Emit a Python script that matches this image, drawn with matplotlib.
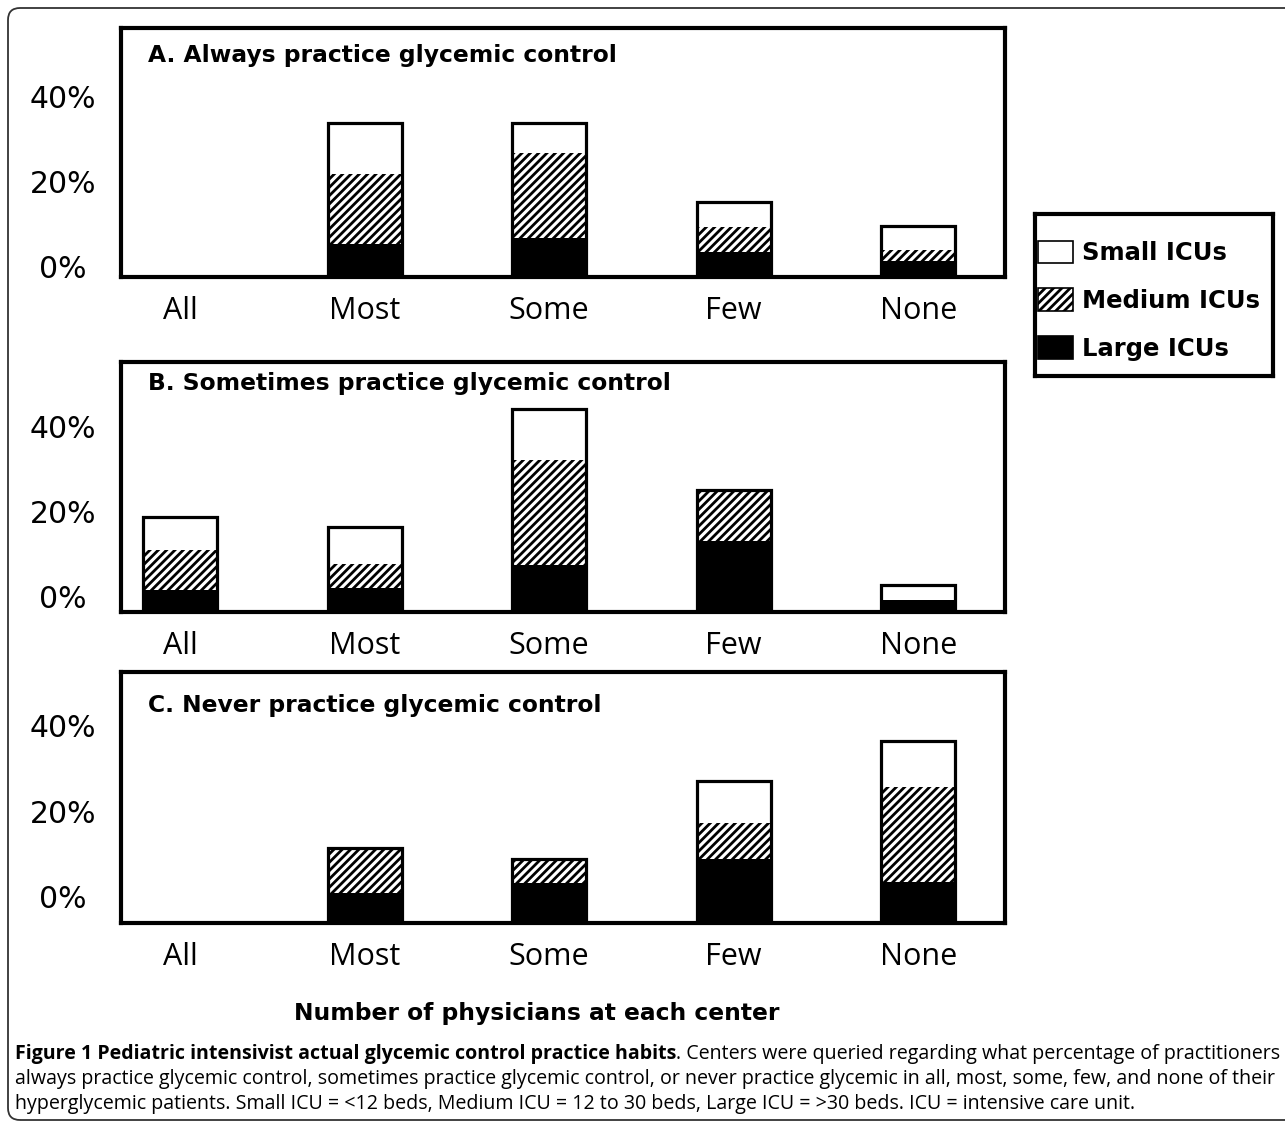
import matplotlib
matplotlib.use('Agg')
import matplotlib.pyplot as plt
from matplotlib.patches import Patch, FancyBboxPatch
from matplotlib.transforms import ScaledTranslation, IdentityTransform
import numpy as np

# ---------------- data ----------------
categories = ['All', 'Most', 'Some', 'Few', 'None']
tick_values = [0, 20, 40]
tick_labels = ['0%', '20%', '40%']
series_names = ['Small ICUs', 'Medium ICUs', 'Large ICUs']
panel_titles = ['A. Always practice glycemic control',
                'B. Sometimes practice glycemic control',
                'C. Never practice glycemic control']

always_large = [0, 7.8, 9.2, 5.9, 3.8]
always_medium = [0, 16.4, 20.0, 5.9, 2.6]
always_small = [0, 12.0, 7.0, 5.8, 5.6]

sometimes_large = [5.1, 5.6, 10.9, 16.5, 2.8]
sometimes_medium = [9.3, 5.6, 24.7, 12.1, 0]
sometimes_small = [7.9, 8.6, 11.8, 0, 3.5]

never_large = [0, 7.0, 9.3, 15.0, 9.6]
never_medium = [0, 10.5, 5.7, 8.4, 22.2]
never_small = [0, 0, 0, 9.8, 10.7]

x_title = 'Number of physicians at each center'
caption_bold = 'Figure 1 Pediatric intensivist actual glycemic control practice habits'
caption_rest = '. Centers were queried regarding what percentage of practitioners'
caption_line2 = ('always practice glycemic control, sometimes practice glycemic control, '
                 'or never practice glycemic in all, most, some, few, and none of their')
caption_line3 = ('hyperglycemic patients. Small ICU = <12 beds, Medium ICU = 12 to 30 beds, '
                 'Large ICU = >30 beds. ICU = intensive care unit.')

# ---------------- figure ----------------
W, H = 1285, 1123
DPI = 100
plt.rcParams['hatch.linewidth'] = 2.0
plt.rcParams['hatch.color'] = 'black'
fig = plt.figure(figsize=(W / DPI, H / DPI), dpi=DPI)
fig.patch.set_facecolor('white')


def px_rect(x0, y0, x1, y1):
    return [x0 / W, 1 - y1 / H, (x1 - x0) / W, (y1 - y0) / H]


panels = [
    (always_large, always_medium, always_small, (121, 28, 1005, 277), 10, 62),
    (sometimes_large, sometimes_medium, sometimes_small, (121, 362, 1005, 612), 15, 390),
    (never_large, never_medium, never_small, (121, 672, 1005, 923), 26, 712),
]

x = np.arange(len(categories))
bar_w = 0.40
title_font = 'DejaVu Sans'
for (large, medium, small, rect, yoff, tbase), title in zip(panels, panel_titles):
    ax = fig.add_axes(px_rect(*rect))
    large = np.array(large, dtype=float)
    medium = np.array(medium, dtype=float)
    small = np.array(small, dtype=float)
    ax.bar(x, large, width=bar_w, color='black', edgecolor=None)
    ax.bar(x, medium, bottom=large, width=bar_w, color='white',
           edgecolor=None, hatch='////')
    ax.bar(x, small, bottom=large + medium, width=bar_w, color='white',
           edgecolor=None)
    ax.bar(x, large + medium + small, width=bar_w, fill=False,
           edgecolor='black', linewidth=2.3, zorder=3)
    ax.set_xlim(-0.32, 4.47)
    ax.set_ylim(0, 58.5)
    for s in ax.spines.values():
        s.set_linewidth(3)
        s.set_color('black')
    ax.set_xticks(x)
    ax.set_xticklabels(categories, fontfamily='Open Sans', fontsize=22)
    ax.set_yticks(tick_values)
    ax.set_yticklabels(tick_labels, fontfamily='DejaVu Sans', fontsize=21.5)
    ax.tick_params(axis='x', length=0, pad=14)
    ax.tick_params(axis='y', length=0, pad=41.8)
    off = ScaledTranslation(0, yoff / DPI, fig.dpi_scale_trans)
    for lab in ax.get_yticklabels():
        lab.set_horizontalalignment('center')
        lab.set_transform(lab.get_transform() + off)
    fig.text(148 / W, 1 - tbase / H, title, fontfamily=title_font,
             fontweight='bold', fontsize=16.8, ha='left', va='baseline')

# ---------------- legend ----------------
leg_ax = fig.add_axes(px_rect(1035, 214, 1273, 376))
leg_ax.set_xticks([])
leg_ax.set_yticks([])
for s in leg_ax.spines.values():
    s.set_linewidth(3)
    s.set_color('black')
handles = [Patch(facecolor='white', edgecolor='black', linewidth=1.2),
           Patch(facecolor='white', edgecolor='black', linewidth=1.2, hatch='////'),
           Patch(facecolor='black', edgecolor='black', linewidth=1.2)]
leg = leg_ax.legend(handles, series_names, loc='center left',
                    bbox_to_anchor=(0.0, 0.465), frameon=False,
                    prop={'family': 'DejaVu Sans', 'weight': 'bold', 'size': 17.5},
                    handlelength=1.45, handleheight=1.05, handletextpad=0.35,
                    labelspacing=0.95, borderpad=0.0, borderaxespad=0.12)

# ---------------- axis title ----------------
fig.text(537 / W, 1 - 1020 / H, x_title, fontfamily='DejaVu Sans', fontweight='bold',
         fontsize=16.8, ha='center', va='baseline')

# ---------------- caption ----------------
cap_size = 12.5
cap_x = 15
cap_right = 1276
t_bold = fig.text(cap_x / W, 1 - 1059 / H, caption_bold, fontfamily='Open Sans',
                  fontweight='bold', fontsize=cap_size, ha='left', va='baseline')
t_rest = fig.text(0.5, 1 - 1059 / H, caption_rest, fontfamily='Open Sans',
                  fontsize=cap_size, ha='left', va='baseline')
t2 = fig.text(cap_x / W, 1 - 1084 / H, caption_line2, fontfamily='Open Sans',
              fontsize=cap_size, ha='left', va='baseline')
t3 = fig.text(cap_x / W, 1 - 1109 / H, caption_line3, fontfamily='Open Sans',
              fontsize=cap_size, ha='left', va='baseline')
r = fig.canvas.get_renderer()
for _ in range(4):
    wb = t_bold.get_window_extent(r).width
    wr = t_rest.get_window_extent(r).width
    w2 = t2.get_window_extent(r).width
    widest = max(wb + wr, w2)
    scale = (cap_right - cap_x) / widest
    cap_size = cap_size * scale
    for t in (t_bold, t_rest, t2, t3):
        t.set_fontsize(cap_size)
wb = t_bold.get_window_extent(r).width
t_rest.set_x((cap_x + wb) / W)

# ---------------- outer frame ----------------
frame = FancyBboxPatch((8, 3), 1300, 1112, boxstyle='round,pad=0,rounding_size=12',
                       transform=IdentityTransform(), fill=False,
                       edgecolor='#333333', linewidth=1.3)
fig.patches.append(frame)

fig.savefig('out.png', dpi=DPI, facecolor='white')
